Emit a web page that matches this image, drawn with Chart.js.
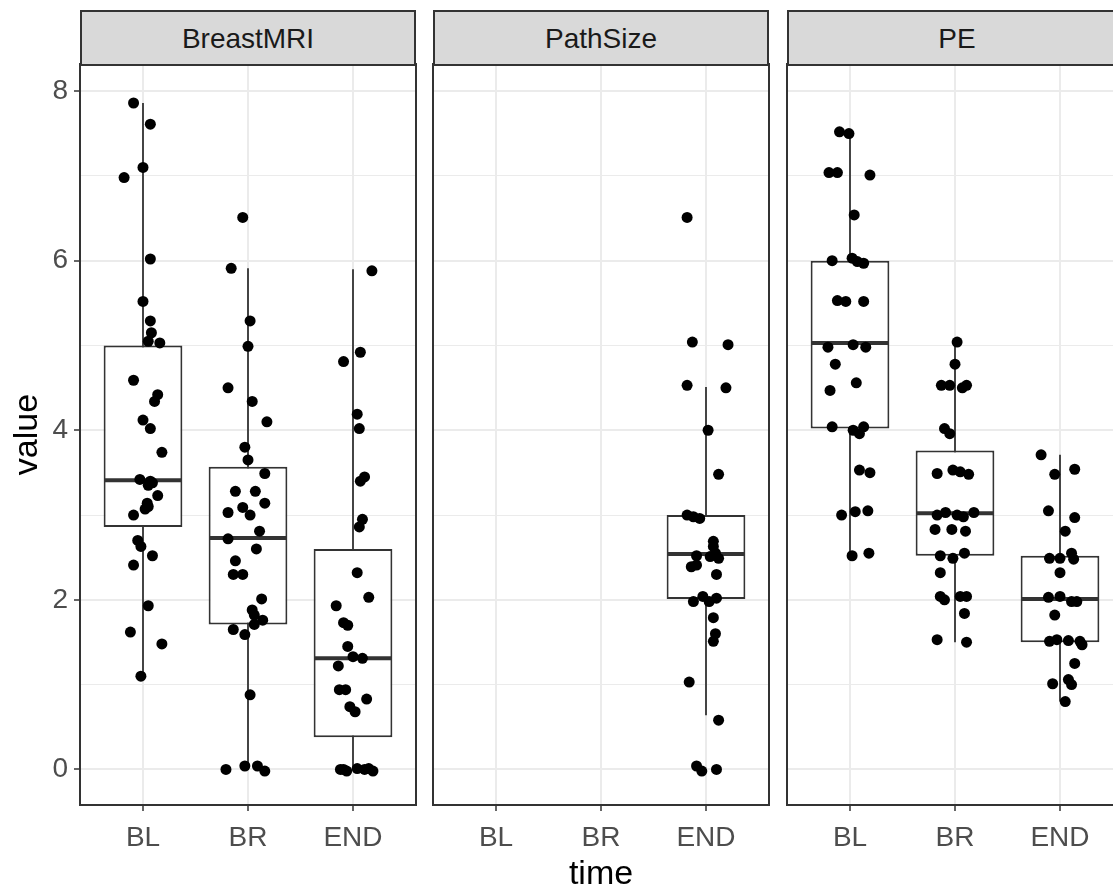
<!DOCTYPE html>
<html>
<head>
<meta charset="utf-8">
<script src="https://cdn.jsdelivr.net/npm/chart.js@4.4.1/dist/chart.umd.min.js"></script>
<style>
  html, body { margin: 0; padding: 0; background: #ffffff; }
  #wrap { position: relative; width: 1113px; height: 889px; overflow: hidden; background: #fff;
          font-family: "Liberation Sans", Arial, sans-serif; }
  canvas { position: absolute; top: 50px; }
  .strip { position: absolute; top: 10px; height: 56px; width: 336px; box-sizing: border-box;
           background: #D9D9D9; border: 2px solid #333333; color: #1A1A1A; font-size: 28px;
           display: flex; align-items: center; justify-content: center; padding-top: 1px; }
</style>
</head>
<body>
<div id="wrap">
  <canvas id="c1" width="418" height="839" style="left:0px"></canvas>
  <canvas id="c2" width="340" height="839" style="left:431px"></canvas>
  <canvas id="c3" width="340" height="839" style="left:785px"></canvas>
  <div class="strip" style="left:80px">BreastMRI</div>
  <div class="strip" style="left:433px">PathSize</div>
  <div class="strip" style="left:787px;width:340px">PE</div>
</div>
<script>
// ---------- data ----------
const CATEGORIES = ['BL', 'BR', 'END'];
const PANELS = ['BreastMRI', 'PathSize', 'PE'];
const Y_TICKS = [0, 1, 2, 3, 4, 5, 6, 7, 8];
const Y_LABELLED = [0, 2, 4, 6, 8];

// box statistics per category (BL, BR, END)
const MRI_LOW = [1.10, 0.00, 0.00];
const MRI_Q1  = [2.86, 1.71, 0.38];
const MRI_MED = [3.41, 2.73, 1.31];
const MRI_Q3  = [5.00, 3.57, 2.60];
const MRI_HIGH= [7.86, 5.91, 5.90];

const PATH_LOW = [null, null, 0.64];
const PATH_Q1  = [null, null, 2.01];
const PATH_MED = [null, null, 2.54];
const PATH_Q3  = [null, null, 3.00];
const PATH_HIGH= [null, null, 4.51];

const PE_LOW = [2.52, 1.50, 0.80];
const PE_Q1  = [4.02, 2.52, 1.50];
const PE_MED = [5.03, 3.02, 2.01];
const PE_Q3  = [6.00, 3.76, 2.52];
const PE_HIGH= [7.50, 5.04, 3.71];

// jittered points: values and horizontal jitter (in category units)
const MRI_BL_VALUES = [7.86,7.61,7.10,6.98,6.02,5.52,5.29,5.15,5.05,5.03,4.59,4.42,4.34,4.12,4.02,3.74,3.42,3.40,3.38,3.35,3.23,3.14,3.10,3.07,3.00,2.70,2.63,2.52,2.41,1.93,1.62,1.48,1.10];
const MRI_BL_JITTER = [-0.09,0.07,0.00,-0.18,0.07,0.00,0.07,0.08,0.05,0.16,-0.09,0.14,0.11,0.00,0.07,0.18,-0.03,0.07,0.09,0.05,0.14,0.04,0.05,0.02,-0.09,-0.05,-0.02,0.09,-0.09,0.05,-0.12,0.18,-0.02];

const MRI_BR_VALUES = [6.51,5.91,5.29,4.99,4.50,4.34,4.10,3.80,3.65,3.49,3.28,3.28,3.14,3.09,3.03,3.00,2.81,2.72,2.60,2.46,2.30,2.30,2.01,1.88,1.82,1.76,1.71,1.65,1.59,0.88,0.00,0.04,0.04,-0.02];
const MRI_BR_JITTER = [-0.05,-0.16,0.02,0.00,-0.19,0.04,0.18,-0.03,0.00,0.16,-0.12,0.07,0.16,-0.05,-0.19,0.02,0.11,-0.19,0.08,-0.12,-0.14,-0.05,0.13,0.04,0.06,0.14,0.06,-0.14,-0.03,0.02,-0.21,-0.03,0.09,0.16];

const MRI_END_VALUES = [5.88,4.92,4.81,4.19,4.02,3.45,3.40,2.95,2.86,2.32,2.03,1.93,1.73,1.70,1.45,1.33,1.31,1.22,0.94,0.94,0.83,0.74,0.68,0.00,-0.02,0.01,0.00,-0.02,0.00,0.01];
const MRI_END_JITTER = [0.18,0.07,-0.09,0.04,0.06,0.11,0.07,0.09,0.06,0.04,0.15,-0.16,-0.09,-0.05,-0.05,0.00,0.09,-0.14,-0.13,-0.07,0.13,-0.03,0.02,-0.12,-0.06,0.04,0.11,0.19,-0.09,0.15];

const PATH_BL_VALUES = [];
const PATH_BL_JITTER = [];
const PATH_BR_VALUES = [];
const PATH_BR_JITTER = [];
const PATH_END_VALUES = [6.51,5.04,5.01,4.53,4.50,4.00,3.48,3.00,2.98,2.96,2.69,2.63,2.55,2.52,2.51,2.49,2.41,2.39,2.30,2.04,2.02,1.98,1.98,1.79,1.60,1.51,1.03,0.58,0.04,-0.02,0.00];
const PATH_END_JITTER = [-0.18,-0.13,0.21,-0.18,0.19,0.02,0.12,-0.18,-0.12,-0.06,0.07,0.07,0.09,-0.09,0.04,0.12,-0.09,-0.14,0.10,-0.03,0.10,-0.12,0.03,0.07,0.09,0.07,-0.16,0.12,-0.09,-0.04,0.10];

const PE_BL_VALUES = [7.52,7.50,7.04,7.04,7.01,6.54,6.00,6.03,5.99,5.97,5.53,5.52,5.52,4.98,5.01,4.98,4.78,4.56,4.47,4.04,4.00,4.04,3.96,3.53,3.50,3.00,3.04,3.05,2.52,2.55];
const PE_BL_JITTER = [-0.10,-0.01,-0.20,-0.12,0.19,0.04,-0.17,0.02,0.07,0.13,-0.12,-0.04,0.13,-0.21,0.03,0.15,-0.14,0.06,-0.19,-0.17,0.03,0.13,0.09,0.09,0.19,-0.08,0.05,0.17,0.02,0.18];

const PE_BR_VALUES = [5.04,4.78,4.53,4.53,4.53,4.50,4.02,3.96,3.49,3.53,3.51,3.48,3.00,3.03,3.00,3.03,2.98,2.83,2.83,2.81,2.52,2.49,2.55,2.32,2.04,2.00,2.04,2.04,1.84,1.53,1.50];
const PE_BR_JITTER = [0.02,0.00,-0.13,-0.05,0.11,0.07,-0.10,-0.05,-0.17,-0.02,0.05,0.13,-0.17,-0.09,0.02,0.18,0.08,-0.19,-0.03,0.10,-0.14,-0.02,0.09,-0.14,-0.14,-0.10,0.05,0.11,0.09,-0.17,0.11];

const PE_END_VALUES = [3.71,3.54,3.48,3.05,2.97,2.81,2.49,2.49,2.55,2.48,2.32,2.03,2.04,1.98,1.98,1.82,1.51,1.53,1.52,1.51,1.47,1.25,1.01,1.06,1.00,0.80];
const PE_END_JITTER = [-0.18,0.14,-0.05,-0.11,0.14,0.05,-0.10,0.00,0.11,0.13,0.00,-0.11,0.00,0.11,0.16,-0.05,-0.10,-0.03,0.08,0.19,0.21,0.14,-0.07,0.08,0.11,0.05];

// ---------- styling ----------
Chart.defaults.font.family = "'Liberation Sans', Arial, sans-serif";
const DARK = '#333333';
const GRID = '#EBEBEB';

const panelBorder = {
  id: 'panelBorder',
  afterDraw(chart) {
    const { ctx, chartArea: a } = chart;
    ctx.save();
    ctx.strokeStyle = DARK;
    ctx.lineWidth = 2;
    ctx.strokeRect(a.left, a.top, a.right - a.left, a.bottom - a.top);
    ctx.restore();
  }
};

function buildPanel(canvasId, stats, groups, opts) {
  const boxData = [], medData = [], whiskerData = [], pointData = [];
  CATEGORIES.forEach((c, i) => {
    const x = i + 1;
    if (stats.q1[i] !== null) {
      boxData.push({ x: x, y: [stats.q1[i], stats.q3[i]] });
      medData.push({ x: x, y: stats.med[i] });
      whiskerData.push({ x: x, y: stats.low[i] }, { x: x, y: stats.high[i] }, { x: x, y: null });
    }
    const g = groups[i];
    g.values.forEach((v, k) => pointData.push({ x: x + g.jitter[k], y: v }));
  });

  const majorY = ctx => ctx.tick && Y_LABELLED.includes(ctx.tick.value);

  return new Chart(document.getElementById(canvasId), {
    type: 'scatter',
    data: {
      datasets: [
        { type: 'scatter', data: pointData, order: 0, pointRadius: 5.5, pointHoverRadius: 5.5,
          backgroundColor: '#000000', borderWidth: 0 },
        { type: 'scatter', data: medData, order: 1, pointStyle: 'line', pointRadius: 39, pointHoverRadius: 39,
          borderColor: DARK, borderWidth: 4, pointBorderWidth: 4 },
        { type: 'bar', data: boxData, order: 2, backgroundColor: '#ffffff', borderColor: DARK,
          borderWidth: 2, borderSkipped: false, categoryPercentage: 0.75, barPercentage: 1, grouped: false },
        { type: 'line', data: whiskerData, order: 3, borderColor: DARK, borderWidth: 1.8,
          pointRadius: 0, spanGaps: false, fill: false, tension: 0 }
      ]
    },
    options: {
      responsive: false,
      animation: false,
      events: [],
      layout: { autoPadding: false, padding: { top: 14, left: opts.padLeft, right: 2, bottom: 0 } },
      plugins: { legend: { display: false }, tooltip: { enabled: false } },
      scales: {
        x: {
          type: 'linear', min: 0.4, max: 3.6, offset: false,
          afterBuildTicks: s => { s.ticks = CATEGORIES.map((c, i) => ({ value: i + 1 })); },
          afterFit: s => { s.height = 84; s.paddingLeft = 0; s.paddingRight = 0; },
          border: { display: false },
          grid: { color: GRID, lineWidth: 2, drawTicks: true, tickLength: 6, tickColor: DARK, tickWidth: 1.5, offset: false },
          ticks: { color: '#4D4D4D', font: { size: 28 }, padding: 10, maxRotation: 0, autoSkip: false,
                   callback: v => CATEGORIES[Math.round(v) - 1] },
          title: { display: opts.xTitle, text: 'time', color: '#000000',
                   font: { size: 34, lineHeight: 0.82 }, padding: { top: 0, bottom: 0 } }
        },
        y: {
          type: 'linear', min: -0.42, max: 8.32,
          afterBuildTicks: s => { s.ticks = Y_TICKS.map(v => ({ value: v })); },
          afterFit: s => { s.width = opts.yWidth; s.paddingTop = 0; s.paddingBottom = 0; },
          border: { display: false },
          grid: { color: GRID, lineWidth: ctx => majorY(ctx) ? 2 : 1,
                  drawTicks: opts.yTicks, tickLength: 6, tickWidth: 1.5,
                  tickColor: ctx => majorY(ctx) ? DARK : 'rgba(0,0,0,0)' },
          ticks: { display: opts.yTicks, color: '#4D4D4D', font: { size: 28 }, padding: 6, autoSkip: false,
                   callback: v => Y_LABELLED.includes(v) ? String(v) : '' },
          title: { display: opts.yTitle, text: 'value', color: '#000000',
                   font: { size: 34, lineHeight: 1 }, padding: { top: 11, bottom: 0 } }
        }
      }
    },
    plugins: [panelBorder]
  });
}

buildPanel('c1',
  { low: MRI_LOW, q1: MRI_Q1, med: MRI_MED, q3: MRI_Q3, high: MRI_HIGH },
  [ { values: MRI_BL_VALUES, jitter: MRI_BL_JITTER },
    { values: MRI_BR_VALUES, jitter: MRI_BR_JITTER },
    { values: MRI_END_VALUES, jitter: MRI_END_JITTER } ],
  { padLeft: 0, yWidth: 80, yTicks: true, yTitle: true, xTitle: false });

buildPanel('c2',
  { low: PATH_LOW, q1: PATH_Q1, med: PATH_MED, q3: PATH_Q3, high: PATH_HIGH },
  [ { values: PATH_BL_VALUES, jitter: PATH_BL_JITTER },
    { values: PATH_BR_VALUES, jitter: PATH_BR_JITTER },
    { values: PATH_END_VALUES, jitter: PATH_END_JITTER } ],
  { padLeft: 2, yWidth: 0, yTicks: false, yTitle: false, xTitle: true });

buildPanel('c3',
  { low: PE_LOW, q1: PE_Q1, med: PE_MED, q3: PE_Q3, high: PE_HIGH },
  [ { values: PE_BL_VALUES, jitter: PE_BL_JITTER },
    { values: PE_BR_VALUES, jitter: PE_BR_JITTER },
    { values: PE_END_VALUES, jitter: PE_END_JITTER } ],
  { padLeft: 2, yWidth: 0, yTicks: false, yTitle: false, xTitle: false });
</script>
</body>
</html>
